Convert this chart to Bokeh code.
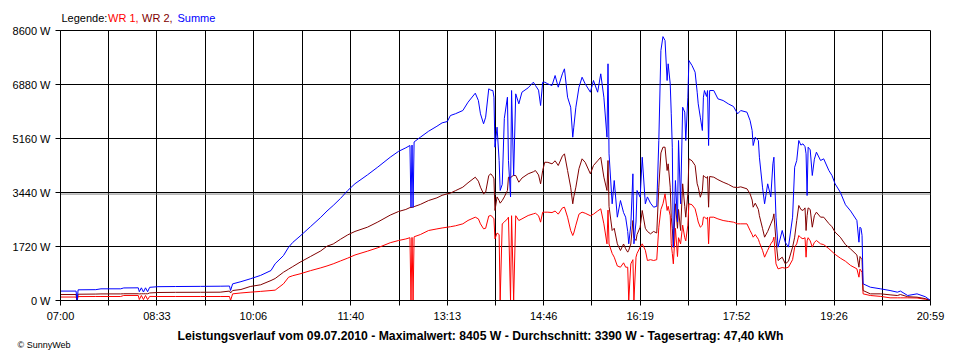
from bokeh.plotting import figure
from bokeh.layouts import column
from bokeh.models import FixedTicker, PrintfTickFormatter, CustomJSTickFormatter, Span, Range1d
from bokeh.core.properties import value
from bokeh.embed import file_html
from bokeh.resources import INLINE

# minutes after 07:00 on 09.07.2010
minute = [0, 15, 16, 17, 34, 39, 58, 61, 75, 76, 78, 80, 82, 84, 86, 94, 111, 135, 154, 163,
          164, 166, 174, 183, 193, 203, 207, 215, 220, 224, 231, 241, 251, 257, 263, 270, 277, 284, 296, 306,
          318, 326, 333, 337, 338, 339, 340, 341, 347, 355, 363, 368, 373, 376, 381, 388, 393, 400, 403, 405,
          408, 410, 413, 415, 417, 418, 419, 421, 423, 424, 426, 428, 431, 432, 434, 435, 437, 439, 442, 445,
          451, 456, 458, 461, 463, 465, 467, 470, 474, 477, 480, 484, 486, 489, 492, 494, 495, 497, 500, 503,
          506, 511, 514, 518, 521, 524, 527, 528, 529, 532, 534, 537, 540, 543, 545, 547, 548, 550, 552, 553,
          555, 556, 559, 561, 564, 566, 569, 572, 575, 577, 579, 581, 583, 585, 586, 588, 589, 590, 591, 593,
          595, 596, 598, 600, 602, 603, 605, 606, 609, 612, 614, 615, 617, 619, 620, 621, 623, 624, 625, 626,
          630, 634, 639, 644, 649, 653, 656, 662, 665, 667, 668, 670, 673, 674, 677, 679, 682, 685, 687, 688,
          690, 692, 696, 699, 702, 706, 708, 710, 712, 714, 716, 718, 719, 720, 721, 723, 725, 727, 729, 733,
          736, 741, 744, 747, 752, 757, 762, 768, 770, 771, 772, 773, 774, 781, 791, 800, 807, 810, 817, 826,
          834, 839]

wr1 = [110, 110, 0, 125, 127, 127, 127, 160, 160, 30, 160, 30, 160, 30, 130, 127, 127, 127, 127, 127,
       0, 212, 240, 265, 290, 318, 330, 530, 743, 790, 849, 950, 1040, 1100, 1168, 1260, 1350, 1450, 1571, 1680,
       1840, 1911, 1960, 2000, 0, 2010, 0, 2030, 2100, 2230, 2280, 2310, 2335, 2350, 2380, 2442, 2550, 2654, 2600, 2442,
       2283, 2300, 2690, 2707, 2650, 2600, 1965, 2150, 2100, 0, 2442, 2500, 2600, 2654, 0, 2700, 0, 2700, 2548, 2600,
       2707, 2760, 2780, 2700, 2495, 2813, 2813, 2813, 2800, 2850, 2750, 2950, 2972, 2654, 2230, 2070, 2150, 2400, 2750, 2813,
       2780, 2700, 2750, 2850, 2920, 2442, 1805, 2880, 1800, 1500, 1380, 1100, 1061, 1200, 1061, 1061, 0, 1168, 1300, 0,
       1380, 1500, 1698, 1805, 1600, 1274, 1300, 1274, 1300, 2335, 2900, 3080, 3398, 2867, 3000, 2700, 1805, 1500, 1168, 2300,
       1400, 2000, 1805, 2400, 2000, 1900, 2400, 3080, 3050, 2920, 2654, 2500, 2335, 2400, 2654, 2654, 2600, 2654, 1805, 2654,
       2654, 2600, 2548, 2520, 2495, 2442, 2442, 2442, 2230, 2100, 2017, 2100, 1950, 1850, 1600, 1380, 1600, 1805, 1900, 2017,
       1168, 1008, 1050, 1030, 1061, 1300, 1698, 1805, 2070, 2000, 1965, 2000, 1380, 1900, 2000, 1900, 1700, 1850, 1911, 1805,
       1780, 1650, 1560, 1470, 1350, 1250, 1115, 1008, 743, 1000, 950, 900, 212, 159, 130, 85, 85, 85, 85, 80,
       40, 0]

wr2 = [190, 190, 0, 200, 205, 210, 210, 215, 215, 210, 215, 215, 215, 215, 240, 255, 260, 262, 265, 300,
       240, 318, 350, 446, 500, 637, 700, 900, 1000, 1080, 1220, 1400, 1580, 1730, 1800, 1950, 2090, 2200, 2335, 2500,
       2720, 2835, 2900, 2960, 2960, 2970, 2970, 2990, 3060, 3185, 3270, 3350, 3398, 3420, 3500, 3610, 3750, 3928, 3800, 3610,
       3398, 3450, 3980, 4035, 3950, 3875, 2867, 3300, 3185, 3100, 3185, 3300, 3504, 3928, 3900, 3950, 3981, 3981, 3768, 3900,
       4035, 4100, 4140, 4000, 3716, 4140, 4405, 4400, 4353, 4450, 4300, 4600, 4672, 4140, 3610, 3080, 3300, 3610, 4200, 4513,
       4400, 4035, 4300, 4450, 4564, 3928, 3504, 4459, 3000, 2230, 2300, 1805, 1593, 1800, 1650, 1540, 1600, 1800, 2548, 2000,
       1911, 2100, 2335, 2867, 2300, 2200, 2123, 2200, 2150, 3610, 4700, 4883, 4883, 4140, 4353, 3610, 2654, 2300, 1698, 3080,
       2300, 2900, 2230, 3716, 3000, 2654, 3398, 4513, 4450, 4300, 3716, 3610, 3290, 3500, 3981, 3950, 3900, 3950, 2972, 3950,
       3928, 3850, 3768, 3700, 3610, 3600, 3620, 3557, 3398, 3200, 2972, 3100, 2900, 2700, 2300, 2017, 2200, 2442, 2600, 2760,
       1900, 1274, 1380, 1168, 1250, 1698, 2017, 2548, 3026, 2900, 2867, 2950, 2230, 2700, 2950, 2900, 2335, 2700, 2813, 2654,
       2654, 2450, 2350, 2176, 2017, 1780, 1640, 1450, 1061, 1400, 1350, 1300, 318, 212, 212, 180, 159, 190, 120, 106,
       60, 0]

summe = [300, 300, 0, 340, 345, 372, 372, 400, 404, 280, 404, 270, 404, 280, 420, 440, 445, 450, 455, 460,
         318, 530, 600, 690, 800, 955, 1170, 1430, 1700, 1850, 2050, 2350, 2650, 2850, 3026, 3250, 3504, 3720, 4000, 4250,
         4564, 4750, 4863, 4937, 2970, 4950, 2970, 5050, 5200, 5392, 5550, 5658, 5700, 5892, 5950, 6051, 6316, 6603, 6370, 5946,
         5628, 5839, 6742, 6700, 6688, 6475, 4883, 5520, 4459, 3504, 3700, 5800, 6475, 4459, 3300, 6688, 3981, 6582, 6264, 6635,
         6774, 6953, 6850, 6700, 6211, 6953, 6953, 6900, 6848, 7166, 6794, 7220, 7379, 6475, 6157, 5201, 5520, 6157, 6794, 7112,
         6900, 6635, 7007, 6635, 7220, 6475, 5201, 7539, 4672, 3080, 3822, 2654, 3185, 2800, 2654, 2200, 1805, 2400, 4035, 1805,
         2500, 3504, 3290, 4564, 3080, 3300, 3100, 2972, 3000, 5096, 7963, 8405, 8281, 7007, 7539, 6900, 5946, 4883, 1698, 3822,
         2500, 5096, 3080, 6157, 6000, 5096, 6475, 7645, 7485, 7272, 6635, 6264, 5839, 5415, 6475, 6688, 6500, 6688, 4937, 6688,
         6688, 6423, 6370, 6264, 6179, 5946, 6051, 5998, 5733, 5415, 4937, 5200, 5096, 4564, 3610, 3080, 3716, 3300, 4353, 4564,
         2654, 1698, 2230, 1850, 1700, 2654, 4246, 4459, 5096, 4950, 4990, 4900, 4672, 3344, 4883, 4800, 3981, 4500, 4724, 4459,
         4513, 4140, 3981, 3716, 3450, 3050, 2850, 2548, 1857, 2335, 2300, 2070, 531, 424, 371, 318, 265, 300, 159, 212,
         120, 0]

tick_labels = ["07:00", "08:33", "10:06", "11:40", "13:13", "14:46", "16:19", "17:52", "19:26", "20:59"]
y_ticks = [0, 1720, 3440, 5160, 6880, 8600]
average = 3390
legend_texts = ["Legende:", "WR 1,", "WR 2,", "Summe"]
legend_colors = ["#000000", "#FF0000", "#800000", "#0000FF"]
footer = "Leistungsverlauf vom 09.07.2010 - Maximalwert: 8405 W - Durchschnitt: 3390 W - Tagesertrag: 47,40 kWh"
credit = "\u00a9 SunnyWeb"


def to_min(s):
    h, m = s.split(":")
    return (int(h) - 7) * 60 + int(m)


label_pos = [to_min(s) for s in tick_labels]
all_ticks = []
for i, pos in enumerate(label_pos):
    all_ticks.append(pos)
    if i < len(label_pos) - 1:
        all_ticks.append((pos + label_pos[i + 1]) / 2)

FONT = "Liberation Sans"
LEFT, FW, RIGHT = 60, 870, 22          # page-pixel layout of the plotting frame
HEAD_H, FOOT_H = 24, 36

# ---- header strip (legend text), x in page pixels ----
head = figure(frame_width=FW, frame_height=HEAD_H, x_range=Range1d(LEFT, LEFT + FW), y_range=Range1d(0, HEAD_H),
              x_axis_type=None, y_axis_type=None, output_backend="svg", toolbar_location=None,
              min_border_left=LEFT, min_border_right=RIGHT, min_border_top=0, min_border_bottom=0,
              outline_line_color=None)
head.title.visible = False
head.text(x=[61, 107.5, 141.5, 177], y=[7, 7, 7, 7], text=legend_texts, text_color=legend_colors,
          text_font=value(FONT), text_font_size="11px", text_baseline="middle", text_align="left")

# ---- main chart ----
p = figure(frame_width=FW, frame_height=270,
           x_range=Range1d(label_pos[0], label_pos[-1]), y_range=Range1d(y_ticks[0], y_ticks[-1]),
           output_backend="svg", toolbar_location=None,
           min_border_left=LEFT, min_border_right=RIGHT, min_border_top=6, min_border_bottom=24)
p.title.visible = False
p.outline_line_color = "black"

p.xaxis.ticker = FixedTicker(ticks=all_ticks, minor_ticks=[])
p.xaxis.formatter = CustomJSTickFormatter(args=dict(labels=tick_labels),
                                          code="return (index % 2 == 0) ? labels[index / 2] : '';")
p.yaxis.ticker = FixedTicker(ticks=y_ticks, minor_ticks=[])
p.yaxis.formatter = PrintfTickFormatter(format="%d W")
for ax in (p.xaxis[0], p.yaxis[0]):
    ax.axis_line_color = "black"
    ax.major_tick_line_color = "black"
    ax.major_tick_in = 0
    ax.major_tick_out = 5
    ax.minor_tick_out = 0
    ax.minor_tick_in = 0
    ax.major_label_text_font = FONT
    ax.major_label_text_font_size = "11px"
    ax.major_label_text_color = "black"
p.xaxis.major_label_standoff = 4
p.yaxis.major_label_standoff = 5

p.xgrid.ticker = FixedTicker(ticks=all_ticks, minor_ticks=[])
p.ygrid.ticker = FixedTicker(ticks=y_ticks, minor_ticks=[])
for g in (p.xgrid[0], p.ygrid[0]):
    g.grid_line_color = "black"
    g.grid_line_alpha = 1.0
    g.grid_line_width = 1

p.add_layout(Span(location=average, dimension="width", line_color="#808080", line_width=1, level="underlay"))

p.line(minute, wr1, line_color="#FF0000", line_width=1)
p.line(minute, wr2, line_color="#800000", line_width=1)
p.line(minute, summe, line_color="#0000FF", line_width=1)

# ---- footer strip: summary line in the frame, copyright as the left-axis label ----
foot = figure(frame_width=FW, frame_height=FOOT_H, x_range=Range1d(LEFT, LEFT + FW), y_range=Range1d(0, FOOT_H),
              x_axis_type=None, output_backend="svg", toolbar_location=None,
              min_border_left=LEFT, min_border_right=RIGHT, min_border_top=0, min_border_bottom=0,
              outline_line_color=None)
foot.title.visible = False
foot.grid.visible = False
foot.text(x=[480], y=[25], text=[footer], text_color="black", text_font=value(FONT),
          text_font_size="12.2px", text_font_style="bold", text_baseline="middle", text_align="center")
fy = foot.yaxis[0]
fy.ticker = FixedTicker(ticks=[16], minor_ticks=[])
fy.formatter = CustomJSTickFormatter(args=dict(label=credit), code="return label;")
fy.axis_line_color = None
fy.major_tick_line_color = None
fy.major_tick_in = 0
fy.major_tick_out = 0
fy.minor_tick_out = 0
fy.minor_tick_in = 0
fy.major_label_standoff = -10
fy.major_label_text_font = FONT
fy.major_label_text_font_size = "9px"
fy.major_label_text_color = "black"

layout = column(head, p, foot, spacing=0)
open("out.html", "w").write(file_html(layout, INLINE))
